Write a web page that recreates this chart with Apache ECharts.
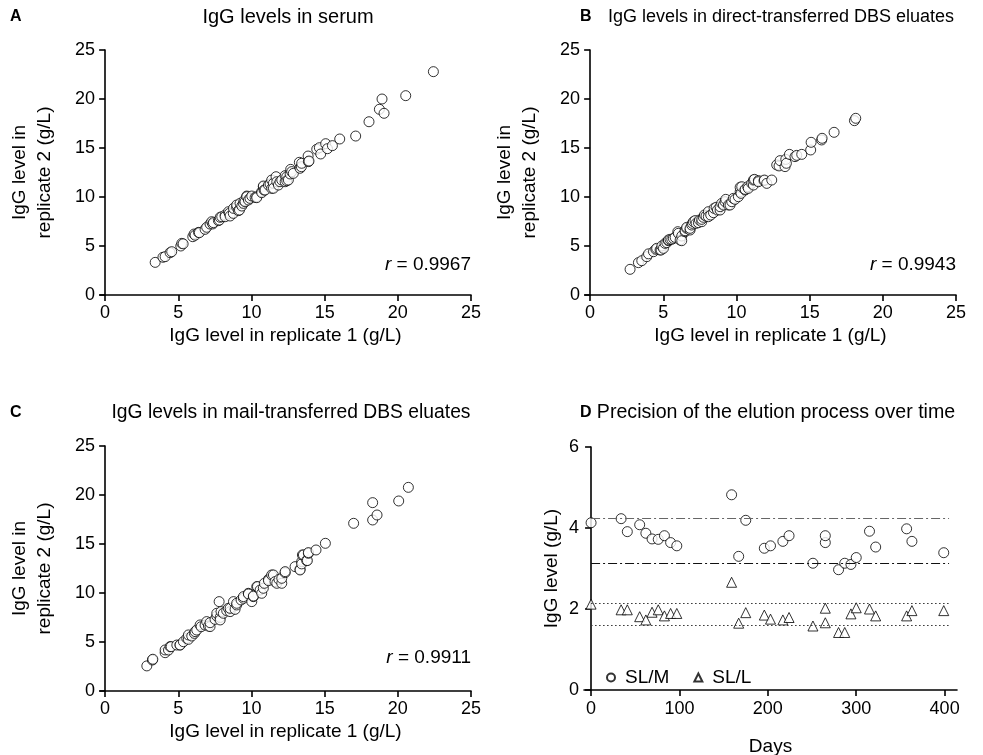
<!DOCTYPE html>
<html>
<head>
<meta charset="utf-8">
<script src="https://cdn.jsdelivr.net/npm/echarts@6/dist/echarts.min.js"></script>
<style>html,body{margin:0;padding:0;background:#fff}#main{width:983px;height:755px}</style>
</head>
<body>
<div id="main"></div>
<script>
// ---- Data ----
const panelLetters = ['A', 'B', 'C', 'D'];
const panelTitles = [
  'IgG levels in serum',
  'IgG levels in direct-transferred DBS eluates',
  'IgG levels in mail-transferred DBS eluates',
  'Precision of the elution process over time'
];
const rValues = ['0.9967', '0.9943', '0.9911'];
const scatterTicks = [0, 5, 10, 15, 20, 25];
const dayTicks = [0, 100, 200, 300, 400];

const serumPairs = [[3.42,3.33],[3.95,3.85],[4.10,3.91],[4.44,4.32],[4.55,4.42],[5.17,5.0],[5.24,5.27],[5.33,5.22],[5.99,5.95],[6.08,6.22],[6.15,6.1],[6.38,6.39],[6.44,6.36],[6.83,6.70],[6.94,6.91],[7.17,7.24],[7.28,7.48],[7.35,7.25],[7.40,7.38],[7.74,7.59],[7.81,7.65],[7.86,7.93],[7.97,7.99],[8.20,8.16],[8.20,7.99],[8.43,8.50],[8.49,8.33],[8.54,8.06],[8.76,8.33],[8.77,8.84],[8.99,8.95],[8.99,9.18],[9.11,8.61],[9.18,8.67],[9.22,9.35],[9.34,9.08],[9.45,9.35],[9.49,9.63],[9.56,9.52],[9.68,10.10],[9.68,10.03],[9.79,9.69],[9.90,9.86],[10.02,10.10],[10.25,9.96],[10.36,10.03],[10.36,9.93],[10.70,10.54],[10.70,10.44],[10.81,11.05],[10.81,11.12],[10.86,10.71],[10.93,10.71],[11.16,11.22],[11.27,11.33],[11.38,10.88],[11.38,11.73],[11.50,11.39],[11.50,10.89],[11.68,12.07],[11.73,11.56],[11.84,11.22],[11.95,11.56],[12.07,11.73],[12.30,11.56],[12.30,12.18],[12.41,12.07],[12.41,11.66],[12.52,11.73],[12.64,12.35],[12.68,12.82],[12.75,12.59],[12.86,12.41],[13.27,13.54],[13.32,12.93],[13.41,13.09],[13.43,13.44],[13.87,14.18],[13.89,13.61],[13.93,13.67],[14.46,14.87],[14.64,15.03],[14.73,14.39],[15.07,15.44],[15.19,14.93],[15.53,15.24],[16.03,15.92],[17.12,16.22],[18.03,17.68],[18.74,18.95],[18.92,20.0],[19.06,18.54],[20.54,20.34],[22.43,22.79]];

const directPairs = [[2.73,2.62],[3.30,3.30],[3.53,3.50],[3.87,3.91],[3.99,4.20],[4.33,4.42],[4.49,4.66],[4.55,4.76],[4.78,4.59],[4.85,4.59],[4.90,5.0],[5.01,4.76],[5.12,5.27],[5.24,5.34],[5.35,5.54],[5.35,5.61],[5.46,5.68],[5.58,5.68],[5.69,5.78],[5.81,5.88],[5.99,6.46],[6.03,6.29],[6.15,5.61],[6.26,6.02],[6.26,5.54],[6.49,6.46],[6.49,6.56],[6.60,6.80],[6.60,6.90],[6.83,6.63],[6.83,6.80],[6.94,7.14],[6.99,7.31],[7.06,7.48],[7.17,7.59],[7.24,7.31],[7.40,7.38],[7.47,7.65],[7.63,7.48],[7.63,7.72],[7.74,7.93],[7.81,8.16],[7.92,8.06],[8.08,8.50],[8.08,7.99],[8.24,8.16],[8.43,8.40],[8.47,8.84],[8.61,8.95],[8.70,8.67],[8.88,8.67],[8.88,9.01],[8.99,9.35],[9.11,9.18],[9.22,9.52],[9.27,9.76],[9.45,9.18],[9.56,9.18],[9.68,9.52],[9.79,9.86],[9.90,9.76],[10.13,10.03],[10.25,10.54],[10.25,10.99],[10.31,10.37],[10.36,11.05],[10.59,10.71],[10.59,10.78],[10.77,11.05],[10.81,10.88],[11.04,11.39],[11.16,11.22],[11.16,11.73],[11.23,11.80],[11.50,11.67],[11.50,11.56],[11.88,11.67],[11.91,11.73],[12.07,11.39],[12.41,11.73],[12.75,13.27],[12.91,13.17],[12.98,13.71],[13.32,13.10],[13.37,13.84],[13.41,13.44],[13.62,14.35],[14.00,14.12],[14.12,14.25],[14.46,14.35],[15.07,14.80],[15.10,15.58],[15.82,15.82],[15.85,15.99],[16.67,16.60],[18.06,17.79],[18.15,18.03]];

const mailPairs = [[2.85,2.56],[3.23,3.16],[3.26,3.24],[4.10,3.91],[4.10,4.19],[4.33,4.18],[4.44,4.53],[4.51,4.52],[4.90,4.69],[5.12,4.69],[5.12,4.70],[5.35,5.03],[5.58,5.37],[5.69,5.27],[5.69,5.72],[5.92,5.61],[6.10,5.88],[6.15,6.06],[6.26,6.22],[6.49,6.74],[6.56,6.56],[6.83,6.73],[6.94,7.08],[7.06,6.63],[7.17,6.57],[7.17,6.97],[7.51,7.31],[7.63,7.65],[7.63,7.93],[7.79,9.12],[7.86,7.51],[7.86,7.25],[7.92,8.10],[8.08,7.93],[8.31,8.20],[8.42,8.44],[8.54,8.10],[8.54,8.44],[8.77,9.12],[8.88,8.33],[8.99,8.78],[8.99,8.95],[9.29,9.29],[9.45,9.46],[9.45,9.63],[9.79,9.97],[9.79,9.90],[10.02,9.12],[10.13,9.63],[10.13,9.69],[10.36,10.64],[10.41,10.65],[10.59,10.30],[10.70,9.97],[10.81,10.48],[10.88,10.99],[11.16,11.39],[11.16,11.26],[11.38,11.84],[11.50,11.84],[11.61,11.16],[11.73,10.99],[11.88,11.39],[12.07,10.99],[12.07,11.50],[12.30,12.07],[12.30,12.18],[12.98,12.69],[13.32,12.42],[13.32,12.35],[13.43,13.20],[13.43,12.97],[13.48,13.88],[13.55,13.88],[13.77,13.31],[13.82,13.31],[13.89,14.05],[13.89,14.12],[14.41,14.39],[15.05,15.07],[16.98,17.11],[18.28,19.22],[18.28,17.45],[18.58,17.96],[20.06,19.39],[20.72,20.78]];

const days = [0,34,41,55,62,69,76,83,90,97,159,167,175,196,203,217,224,251,265,265,280,287,294,300,315,322,357,363,399];
const slmValues = [4.13,4.23,3.91,4.08,3.87,3.73,3.72,3.81,3.64,3.56,4.82,3.30,4.19,3.50,3.56,3.67,3.81,3.13,3.64,3.81,2.97,3.13,3.10,3.27,3.92,3.53,3.98,3.67,3.39];
const sllValues = [2.12,1.98,1.98,1.81,1.73,1.92,1.98,1.83,1.89,1.89,2.66,1.65,1.91,1.85,1.75,1.73,1.79,1.58,2.02,1.66,1.42,1.42,1.88,2.03,2.00,1.83,1.83,1.96,1.96];
const refLineValues = [4.25, 3.14, 2.15, 1.60];
const refLineEndDay = 405;

// ---- Chart ----
const FONT = 'Liberation Sans, Arial, Helvetica, sans-serif';
const chart = echarts.init(document.getElementById('main'), null, {renderer: 'canvas'});

const axisCommon = {
  axisLine: {show: true, onZero: true, lineStyle: {color: '#000', width: 1.6}},
  axisTick: {show: true, inside: false, length: 6, lineStyle: {color: '#000', width: 1.6}},
  axisLabel: {color: '#000', fontSize: 18, fontFamily: FONT, margin: 5},
  splitLine: {show: false},
  nameTextStyle: {color: '#000', fontSize: 19, fontFamily: FONT, lineHeight: 25}
};

const grids = [
  {left: 100, top: 50, width: 371, height: 245, outerBoundsMode: 'none', containLabel: false},
  {left: 585, top: 50, width: 371, height: 245, outerBoundsMode: 'none', containLabel: false},
  {left: 100, top: 446, width: 371, height: 245, outerBoundsMode: 'none', containLabel: false},
  {left: 584, top: 447, width: 373, height: 243, outerBoundsMode: 'none', containLabel: false}
];

const xAxes = [], yAxes = [];
for (let i = 0; i < 3; i++) {
  xAxes.push(Object.assign({}, axisCommon, {
    gridIndex: i, type: 'value', min: -0.35, max: 25,
    axisTick: Object.assign({}, axisCommon.axisTick, {customValues: scatterTicks}),
    axisLabel: Object.assign({}, axisCommon.axisLabel, {customValues: scatterTicks, margin: 9}),
    name: 'IgG level in replicate 1 (g/L)', nameLocation: 'middle', nameGap: 28
  }));
  yAxes.push(Object.assign({}, axisCommon, {
    gridIndex: i, type: 'value', min: 0, max: 25, interval: 5,
    name: 'IgG level in\nreplicate 2 (g/L)', nameLocation: 'middle', nameGap: 43
  }));
}
xAxes.push(Object.assign({}, axisCommon, {
  gridIndex: 3, type: 'value', min: -8, max: 414,
  axisTick: Object.assign({}, axisCommon.axisTick, {customValues: dayTicks}),
  axisLabel: Object.assign({}, axisCommon.axisLabel, {customValues: dayTicks, margin: 10}),
  name: 'Days', nameLocation: 'middle', nameGap: 44
}));
yAxes.push(Object.assign({}, axisCommon, {
  gridIndex: 3, type: 'value', min: 0, max: 6, interval: 2,
  name: 'IgG level (g/L)', nameLocation: 'middle', nameGap: 20
}));

const openCircle = {color: '#fff', borderColor: '#000', borderWidth: 1};
const scatterSets = [serumPairs, directPairs, mailPairs];
const series = scatterSets.map((d, i) => ({
  type: 'scatter', xAxisIndex: i, yAxisIndex: i, data: d,
  symbol: 'circle', symbolSize: 10, itemStyle: openCircle, silent: true
}));

const refStyles = [
  {color: '#666', width: 1.2, type: [9, 3, 2, 3]},
  {color: '#111', width: 1.2, type: [9, 3, 2, 3]},
  {color: '#333', width: 1.2, type: [1.5, 2.5]},
  {color: '#333', width: 1.2, type: [1.5, 2.5]}
];

series.push({
  name: 'SL/M', type: 'scatter', xAxisIndex: 3, yAxisIndex: 3,
  data: days.map((d, k) => [d, slmValues[k]]),
  symbol: 'circle', symbolSize: 10, itemStyle: openCircle, z: 3,
  markLine: {
    silent: true, symbol: 'none', label: {show: false}, animation: false,
    data: refLineValues.map((v, k) => [
      {coord: [0, v], lineStyle: refStyles[k]},
      {coord: [refLineEndDay, v]}
    ])
  }
});
series.push({
  name: 'SL/L', type: 'scatter', xAxisIndex: 3, yAxisIndex: 3,
  data: days.map((d, k) => [d, sllValues[k]]),
  symbol: 'triangle', symbolSize: 10, itemStyle: openCircle, z: 3
});

const titleFont = [20, 18, 19.3, 19.6];
const titlePos = [[288, 17], [781, 17], [291, 413], [776, 413]];
const letterPos = [[10, 17], [580, 17], [10, 413], [580, 413]];
const graphics = [];
panelTitles.forEach((t, i) => {
  graphics.push({type: 'text', x: titlePos[i][0], y: titlePos[i][1],
    style: {text: t, fill: '#000', font: titleFont[i] + 'px ' + FONT, align: 'center', verticalAlign: 'middle'}});
  graphics.push({type: 'text', x: letterPos[i][0], y: letterPos[i][1],
    style: {text: panelLetters[i], fill: '#000', font: 'bold 16px ' + FONT, align: 'left', verticalAlign: 'middle'}});
});
const rPos = [[471, 265], [956, 265], [471, 658]];
rValues.forEach((r, i) => {
  graphics.push({type: 'text', x: rPos[i][0], y: rPos[i][1],
    style: {text: '{i|r} = ' + r, fill: '#000', font: '19px ' + FONT, align: 'right', verticalAlign: 'middle',
      rich: {i: {fontStyle: 'italic', fontSize: 19, fontFamily: FONT}}}});
});

chart.setOption({
  animation: false,
  textStyle: {fontFamily: FONT},
  grid: grids,
  xAxis: xAxes,
  yAxis: yAxes,
  legend: {
    data: ['SL/M', 'SL/L'], left: 601, top: 663, orient: 'horizontal',
    itemWidth: 8, itemHeight: 8, itemGap: 24,
    textStyle: {color: '#000', fontSize: 19, fontFamily: FONT, padding: [0, 0, 0, 5]},
    selectedMode: false
  },
  series: series,
  graphic: graphics
});
</script>
</body>
</html>
